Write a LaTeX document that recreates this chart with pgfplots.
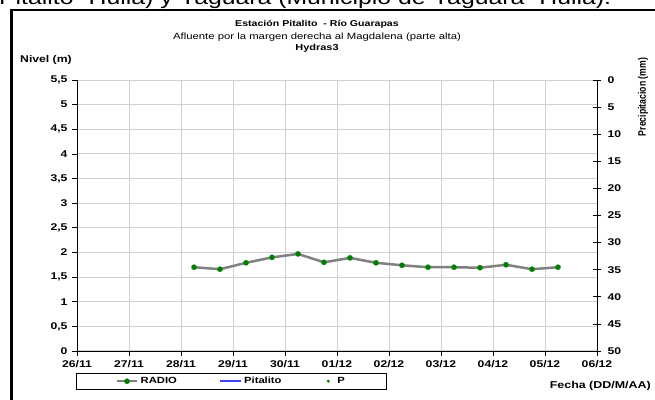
\documentclass[border=0pt]{standalone}
\usepackage{fontspec}
\setmainfont{Liberation Sans}[FakeStretch=1.25]
\newfontfamily\plainsans{Liberation Sans}
\usepackage{pgfplots}
\pgfplotsset{compat=1.18}
\definecolor{lineg}{HTML}{808080}
\definecolor{markg}{HTML}{008000}
\definecolor{gridg}{HTML}{D0D0D0}
\begin{document}
\begin{tikzpicture}
\useasboundingbox (0bp,0bp) rectangle (655bp,400bp);
% cut text from the page above
\node[anchor=base west, inner sep=0pt, font=\fontsize{19.9}{20}\selectfont] at (-1bp,395bp)
  {Pitalito- Huila) y Yaguará (Municipio de Yaguará- Huila).};
% frame
\draw[line width=2bp] (10bp,390bp) -- (670bp,390bp);
\draw[line width=3bp] (11.5bp,391bp) -- (11.5bp,-10bp);

% left axis: nivel
\begin{axis}[
  at={(77bp,49bp)}, anchor=south west,
  scale only axis, width=520bp, height=271bp,
  xmin=0, xmax=10, ymin=0, ymax=5.5,
  axis x line*=bottom, axis y line*=left,
  axis line style={black, line width=0.8bp},
  xtick={0,...,10},
  xticklabels={26/11,27/11,28/11,29/11,30/11,01/12,02/12,03/12,04/12,05/12,06/12},
  ytick={0,0.5,...,5.5},
  yticklabels={0,{0,5},1,{1,5},2,{2,5},3,{3,5},4,{4,5},5,{5,5}},
  grid=major, grid style={gridg, line width=1bp},
  tick align=outside, major tick length=5bp,
  tick style={black, line width=0.8bp},
  ticklabel style={font=\fontsize{9.8}{10}\selectfont\bfseries},
  /pgf/number format/assume math mode=true,
  yticklabel style={xshift=-1bp},
  xticklabel style={yshift=-1bp},
  legend columns=3,
  legend image code/.code={
    \draw[mark repeat=2,mark phase=2] plot coordinates {(0cm,0cm) (0.37cm,0cm) (0.74cm,0cm)};},
  legend style={at={(-0.002,-0.081)}, anchor=north west, draw=black, line width=0.6bp,
    font=\fontsize{9}{10}\selectfont\bfseries, inner xsep=39bp, inner ysep=2bp},
]
\addplot[lineg, line width=2.5bp, mark=*, mark size=2.7bp,
  mark options={markg, fill=markg, line width=0.1bp}] coordinates {
  (2.25,1.70) (2.75,1.66) (3.25,1.79) (3.75,1.90) (4.25,1.97)
  (4.75,1.80) (5.25,1.89) (5.75,1.79) (6.25,1.74) (6.75,1.70)
  (7.25,1.70) (7.75,1.69) (8.25,1.75) (8.75,1.66) (9.25,1.70)
};
\addlegendentry{\makebox[77bp][l]{RADIO}}
\addlegendimage{blue!75, line width=1.5bp}
\addlegendentry{\makebox[81bp][l]{Pitalito}}
\addlegendimage{only marks, mark=*, mark size=1.1bp, markg}
\addlegendentry{\hspace{6bp}P}
\end{axis}

% right axis: precipitation
\begin{axis}[
  at={(77bp,49bp)}, anchor=south west,
  scale only axis, width=520bp, height=271bp,
  xmin=0, xmax=10, ymin=0, ymax=50, y dir=reverse,
  axis x line=none, axis y line*=right,
  axis line style={black, line width=0.8bp},
  ytick={0,5,...,50},
  tick align=center, major tick length=8bp,
  tick style={black, line width=0.8bp},
  ticklabel style={font=\fontsize{9.8}{10}\selectfont\bfseries},
  /pgf/number format/assume math mode=true,
  yticklabel style={anchor=west, xshift=3bp},
]
\addplot[draw=none] coordinates {(0,0)};
\end{axis}

% titles
\node[anchor=base, font=\fontsize{8.5}{10}\selectfont\bfseries] at (317bp,373bp) {Estación Pitalito \ - Río Guarapas};
\node[anchor=base, font=\fontsize{9.1}{10}\selectfont] at (317bp,360bp) {Afluente por la margen derecha al Magdalena (parte alta)};
\node[anchor=base, font=\fontsize{8.8}{10}\selectfont\bfseries] at (317bp,349bp) {Hydras3};
\node[anchor=base west, inner sep=0pt, font=\fontsize{9.8}{10}\selectfont\bfseries] at (20bp,337bp) {Nivel (m)};
\node[rotate=90, font=\plainsans\fontsize{8.7}{10}\selectfont\bfseries] at (643bp,303bp) {\scalebox{1}[1.25]{Precipitacion (mm)}};
\node[anchor=base east, inner sep=0pt, font=\fontsize{10}{10}\selectfont\bfseries] at (651bp,12bp) {Fecha (DD/M/AA)};
\end{tikzpicture}
\end{document}
